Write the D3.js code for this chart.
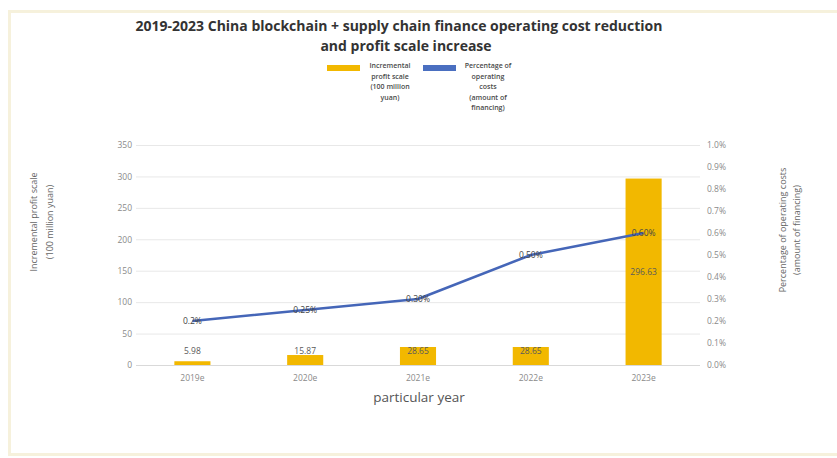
<!DOCTYPE html>
<html>
<head>
<meta charset="utf-8">
<script src="https://cdn.jsdelivr.net/npm/d3@7"></script>
<style>
  body { margin: 0; background: #fff; }
  text { font-family: "Open Sans", "Noto Sans", sans-serif; }
</style>
</head>
<body>
<div class="result"></div>
<script>
// chart data
const years = ['2019e', '2020e', '2021e', '2022e', '2023e']
const profitScale = [5.98, 15.87, 28.65, 28.65, 296.63]
const costPct = [0.2, 0.25, 0.3, 0.5, 0.6]
const costLabels = ['0.2%', '0.25%', '0.30%', '0.50%', '0.60%']
const leftTicks = [0, 50, 100, 150, 200, 250, 300, 350]
const rightTicks = [0, 0.1, 0.2, 0.3, 0.4, 0.5, 0.6, 0.7, 0.8, 0.9, 1.0]

const W = 837, H = 458
const m = { left: 136, right: 700, top: 145, bottom: 365 }

const svg = d3.select('.result').append('svg')
  .attr('width', W).attr('height', H)

// outer frame
svg.append('rect')
  .attr('x', 9.5).attr('y', 11.5).attr('width', 840).attr('height', 443)
  .attr('fill', '#fff').attr('stroke', '#f6f1dc').attr('stroke-width', 3)

const x = d3.scaleBand().domain(years).range([m.left, m.right]).paddingInner(0.68).paddingOuter(0.34)
const yL = d3.scaleLinear().domain([0, 350]).range([m.bottom, m.top])
const yR = d3.scaleLinear().domain([0, 1.0]).range([m.bottom, m.top])

// gridlines
svg.append('g').selectAll('line').data(leftTicks).enter().append('line')
  .attr('x1', m.left).attr('x2', m.right)
  .attr('y1', (d) => yL(d) + 0.5).attr('y2', (d) => yL(d) + 0.5)
  .attr('stroke', (d) => d === 0 ? '#d9d9d9' : '#e8e8e8').attr('stroke-width', 1)

function styleTicks(g) {
  g.select('.domain').remove()
  g.selectAll('text').attr('font-size', 8.5).attr('fill', '#8a8a8a')
    .attr('font-family', '"Open Sans", sans-serif')
}

// left axis
svg.append('g').attr('transform', 'translate(' + m.left + ',0)')
  .call(d3.axisLeft(yL).tickValues(leftTicks).tickSize(0).tickPadding(4))
  .call(styleTicks)

// right axis
svg.append('g').attr('transform', 'translate(' + m.right + ',0)')
  .call(d3.axisRight(yR).tickValues(rightTicks).tickSize(0).tickPadding(7).tickFormat((d) => d.toFixed(1) + '%'))
  .call(styleTicks)

// x axis
svg.append('g').attr('transform', 'translate(0,' + m.bottom + ')')
  .call(d3.axisBottom(x).tickSize(0).tickPadding(10))
  .call(styleTicks)

// bars
svg.append('g').selectAll('rect').data(profitScale).enter().append('rect')
  .attr('x', (d, i) => x(years[i]))
  .attr('width', x.bandwidth())
  .attr('y', (d) => yL(d))
  .attr('height', (d) => yL(0) - yL(d))
  .attr('fill', '#f2b800')

svg.append('g').selectAll('text').data(profitScale).enter().append('text')
  .attr('x', (d, i) => x(years[i]) + x.bandwidth() / 2)
  .attr('y', (d) => yL(Math.max(d / 2, 22)) + 3)
  .attr('text-anchor', 'middle').attr('font-size', 8.5).attr('fill', '#5a5a5a')
  .text((d) => d.toFixed(2))

// line
const line = d3.line()
  .x((d, i) => x(years[i]) + x.bandwidth() / 2)
  .y((d) => yR(d))
svg.append('path').datum(costPct)
  .attr('d', line).attr('fill', 'none')
  .attr('stroke', '#4566b8').attr('stroke-width', 2.5).attr('stroke-linejoin', 'round')

svg.append('g').selectAll('text').data(costPct).enter().append('text')
  .attr('x', (d, i) => x(years[i]) + x.bandwidth() / 2)
  .attr('y', (d) => yR(d) + 3)
  .attr('text-anchor', 'middle').attr('font-size', 8.5).attr('fill', '#444')
  .text((d, i) => costLabels[i])

// axis titles
svg.append('text').attr('x', 419).attr('y', 402).attr('text-anchor', 'middle')
  .attr('font-size', 13.5).attr('fill', '#555').text('particular year')

const tl = svg.append('text').attr('transform', 'translate(37,222) rotate(-90)')
  .attr('text-anchor', 'middle').attr('font-size', 9).attr('fill', '#666')
tl.append('tspan').attr('x', 0).attr('dy', 0).text('Incremental profit scale')
tl.append('tspan').attr('x', 0).attr('dy', 16).text('(100 million yuan)')

const tr = svg.append('text').attr('transform', 'translate(786,230) rotate(-90)')
  .attr('text-anchor', 'middle').attr('font-size', 9).attr('fill', '#666')
tr.append('tspan').attr('x', 0).attr('dy', 0).text('Percentage of operating costs')
tr.append('tspan').attr('x', 0).attr('dy', 14).text('(amount of financing)')

// title
const title = svg.append('text').attr('text-anchor', 'middle').attr('font-weight', 'bold')
  .attr('font-size', 14).attr('fill', '#333')
title.append('tspan').attr('x', 399).attr('y', 31).text('2019-2023 China blockchain + supply chain finance operating cost reduction')
title.append('tspan').attr('x', 406).attr('y', 51).text('and profit scale increase')

// legend
const legend = [
  { color: '#f2b800', sx: 327, tx: 390, lines: ['Incremental', 'profit scale', '(100 million', 'yuan)'] },
  { color: '#4a6fc0', sx: 423, tx: 488, lines: ['Percentage of', 'operating', 'costs', '(amount of', 'financing)'] }
]
legend.forEach((l) => {
  svg.append('rect').attr('x', l.sx).attr('y', 65).attr('width', 33).attr('height', 6).attr('fill', l.color)
  const t = svg.append('text').attr('text-anchor', 'middle').attr('font-size', 7)
    .attr('font-weight', 600).attr('fill', '#4a4a4a')
  l.lines.forEach((s, i) => {
    t.append('tspan').attr('x', l.tx).attr('y', 68 + i * 10.5).text(s)
  })
})
</script>
</body>
</html>
